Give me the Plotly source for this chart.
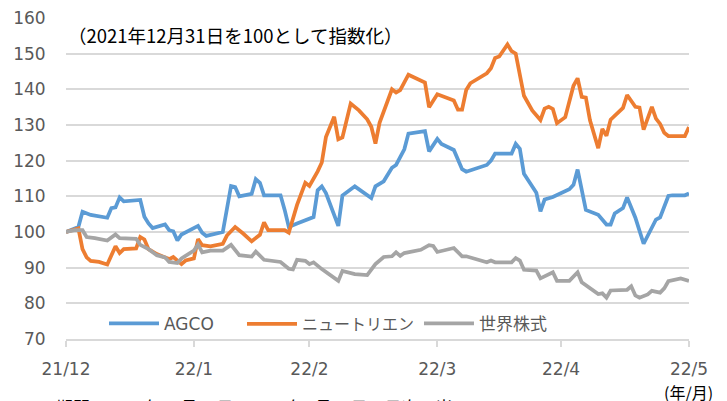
import plotly.graph_objects as go

# 2021/12/31 = 100 として指数化（日次）
agco_dates = [
    "2021-12-31", "2022-01-03", "2022-01-04", "2022-01-06", "2022-01-10", "2022-01-11",
    "2022-01-12", "2022-01-13", "2022-01-14", "2022-01-18", "2022-01-19", "2022-01-20",
    "2022-01-21", "2022-01-24", "2022-01-25", "2022-01-26", "2022-01-27", "2022-01-28",
    "2022-02-01", "2022-02-02", "2022-02-03", "2022-02-07", "2022-02-09", "2022-02-10",
    "2022-02-11", "2022-02-14", "2022-02-15", "2022-02-16", "2022-02-17", "2022-02-21",
    "2022-02-22", "2022-02-23", "2022-02-25", "2022-02-28", "2022-03-01", "2022-03-02",
    "2022-03-03", "2022-03-04", "2022-03-07", "2022-03-08", "2022-03-11", "2022-03-15",
    "2022-03-16", "2022-03-18", "2022-03-20", "2022-03-21", "2022-03-22", "2022-03-23",
    "2022-03-24", "2022-03-28", "2022-03-29", "2022-03-31", "2022-04-01", "2022-04-04",
    "2022-04-06", "2022-04-07", "2022-04-12", "2022-04-13", "2022-04-14", "2022-04-18",
    "2022-04-19", "2022-04-20", "2022-04-21", "2022-04-24", "2022-04-25", "2022-04-26",
    "2022-04-28", "2022-05-02", "2022-05-03", "2022-05-04", "2022-05-06", "2022-05-09",
    "2022-05-11", "2022-05-12", "2022-05-13", "2022-05-15", "2022-05-16", "2022-05-18",
    "2022-05-20", "2022-05-23", "2022-05-24", "2022-05-25", "2022-05-26", "2022-05-27",
    "2022-05-30", "2022-05-31",
]
agco_values = [
    100.0, 101.4, 105.7, 104.8, 104.0, 106.7,
    106.9, 109.7, 108.6, 109.0, 104.3, 102.4,
    101.1, 102.1, 100.5, 100.2, 97.6, 99.3,
    101.7, 99.8, 98.9, 100.0, 112.9, 112.6,
    110.0, 110.7, 114.8, 113.8, 110.3, 110.3,
    106.2, 101.4, 102.4, 103.6, 104.2, 111.7,
    112.8, 110.9, 101.7, 110.2, 112.8, 109.5,
    112.8, 114.2, 118.0, 118.8, 121.2, 123.2,
    127.6, 128.3, 122.6, 126.1, 124.7, 123.0,
    117.6, 116.9, 118.8, 120.0, 122.0, 122.0,
    124.7, 123.3, 116.3, 111.0, 105.8, 109.1,
    109.8, 112.0, 113.2, 117.5, 106.2, 104.8,
    102.1, 102.1, 105.2, 106.7, 109.7, 104.0,
    96.7, 103.5, 104.1, 106.8, 110.1, 110.3,
    110.3, 110.8,
]

nutrien_dates = [
    "2021-12-31", "2022-01-03", "2022-01-04", "2022-01-05", "2022-01-06", "2022-01-08",
    "2022-01-10", "2022-01-12", "2022-01-13", "2022-01-14", "2022-01-17", "2022-01-18",
    "2022-01-19", "2022-01-20", "2022-01-22", "2022-01-23", "2022-01-25", "2022-01-26",
    "2022-01-28", "2022-01-29", "2022-01-31", "2022-02-01", "2022-02-02", "2022-02-04",
    "2022-02-07", "2022-02-08", "2022-02-10", "2022-02-12", "2022-02-14", "2022-02-16",
    "2022-02-17", "2022-02-18", "2022-02-22", "2022-02-23", "2022-02-25", "2022-02-27",
    "2022-02-28", "2022-03-02", "2022-03-03", "2022-03-04", "2022-03-06", "2022-03-07",
    "2022-03-08", "2022-03-10", "2022-03-12", "2022-03-14", "2022-03-15", "2022-03-16",
    "2022-03-17", "2022-03-20", "2022-03-21", "2022-03-22", "2022-03-24", "2022-03-28",
    "2022-03-29", "2022-03-31", "2022-04-04", "2022-04-05", "2022-04-06", "2022-04-07",
    "2022-04-08", "2022-04-12", "2022-04-13", "2022-04-14", "2022-04-15", "2022-04-17",
    "2022-04-18", "2022-04-19", "2022-04-20", "2022-04-21", "2022-04-23", "2022-04-25",
    "2022-04-26", "2022-04-27", "2022-04-28", "2022-04-29", "2022-05-01", "2022-05-03",
    "2022-05-04", "2022-05-05", "2022-05-06", "2022-05-07", "2022-05-09", "2022-05-10",
    "2022-05-11", "2022-05-12", "2022-05-15", "2022-05-16", "2022-05-18", "2022-05-19",
    "2022-05-20", "2022-05-22", "2022-05-23", "2022-05-24", "2022-05-25", "2022-05-26",
    "2022-05-30", "2022-05-31",
]
nutrien_values = [
    100.0, 101.0, 95.2, 92.9, 91.9, 91.6,
    90.9, 96.0, 94.1, 95.2, 95.4, 98.6,
    97.9, 95.2, 93.8, 93.3, 92.4, 93.0,
    91.0, 92.0, 92.6, 98.0, 96.3, 96.0,
    96.7, 99.0, 101.4, 99.5, 97.4, 99.2,
    102.7, 100.5, 100.5, 99.8, 107.6, 113.8,
    112.9, 117.0, 119.5, 126.6, 132.3, 126.0,
    126.5, 136.0, 134.1, 131.6, 129.5, 124.8,
    130.6, 140.0, 139.1, 139.8, 144.1, 141.9,
    135.0, 138.6, 136.9, 134.3, 134.3, 139.8,
    141.7, 144.5, 145.9, 148.8, 149.2, 152.6,
    150.7, 150.0, 143.6, 138.2, 134.1, 131.4,
    134.6, 135.1, 134.5, 130.5, 132.2, 141.0,
    143.1, 137.9, 137.7, 131.3, 123.5, 128.9,
    127.0, 131.5, 134.8, 138.4, 135.1, 134.9,
    128.7, 135.1, 131.8, 130.3, 127.8, 126.9,
    126.9, 129.4,
]

world_dates = [
    "2021-12-31", "2022-01-02", "2022-01-04", "2022-01-05", "2022-01-07", "2022-01-10",
    "2022-01-12", "2022-01-13", "2022-01-17", "2022-01-18", "2022-01-20", "2022-01-22",
    "2022-01-24", "2022-01-25", "2022-01-27", "2022-01-28", "2022-01-31", "2022-02-01",
    "2022-02-02", "2022-02-04", "2022-02-07", "2022-02-09", "2022-02-11", "2022-02-14",
    "2022-02-15", "2022-02-17", "2022-02-21", "2022-02-23", "2022-02-24", "2022-02-25",
    "2022-02-27", "2022-02-28", "2022-03-01", "2022-03-03", "2022-03-07", "2022-03-08",
    "2022-03-11", "2022-03-14", "2022-03-16", "2022-03-18", "2022-03-20", "2022-03-21",
    "2022-03-22", "2022-03-23", "2022-03-27", "2022-03-29", "2022-03-30", "2022-03-31",
    "2022-04-04", "2022-04-06", "2022-04-07", "2022-04-12", "2022-04-13", "2022-04-14",
    "2022-04-18", "2022-04-19", "2022-04-20", "2022-04-21", "2022-04-24", "2022-04-25",
    "2022-04-28", "2022-04-29", "2022-05-02", "2022-05-04", "2022-05-05", "2022-05-09",
    "2022-05-10", "2022-05-11", "2022-05-12", "2022-05-16", "2022-05-17", "2022-05-18",
    "2022-05-19", "2022-05-21", "2022-05-22", "2022-05-24", "2022-05-25", "2022-05-26",
    "2022-05-29", "2022-05-31",
]
world_values = [
    100.0, 100.5, 100.5, 98.6, 98.3, 97.6,
    99.3, 98.3, 98.1, 96.4, 95.2, 93.5,
    92.9, 91.6, 91.3, 92.6, 94.8, 96.5,
    94.3, 94.8, 94.8, 96.4, 93.5, 93.1,
    94.5, 92.2, 91.6, 89.7, 89.5, 92.2,
    91.9, 91.0, 91.5, 89.6, 86.3, 89.1,
    88.2, 87.9, 91.0, 93.0, 93.2, 94.3,
    93.3, 94.1, 95.0, 96.3, 96.1, 94.4,
    95.5, 93.2, 93.2, 91.5, 92.0, 91.5,
    91.5, 92.7, 92.0, 89.4, 89.2, 87.0,
    88.7, 86.3, 86.3, 88.7, 85.9, 82.6,
    82.8, 81.6, 83.6, 83.8, 84.8, 82.2,
    81.6, 82.5, 83.5, 83.0, 84.2, 86.2,
    87.0, 86.3,
]

month_ends = ["2021-12-31", "2022-01-31", "2022-02-28", "2022-03-31", "2022-04-30", "2022-05-31"]
month_labels = ["21/12", "22/1", "22/2", "22/3", "22/4", "22/5"]

# name, dates, values, colour, legend id, legend x (paper), legend font size
series = [
    ("AGCO", agco_dates, agco_values, "#5B9BD5", "legend", 0.061, 17),
    ("ニュートリエン", nutrien_dates, nutrien_values, "#ED7D31", "legend2", 0.2825, 16),
    ("世界株式", world_dates, world_values, "#A5A5A5", "legend3", 0.5666, 17),
]

FONT = "DejaVu Sans, Noto Sans CJK JP, sans-serif"
JP_FONT = "Noto Sans CJK JP, sans-serif"

fig = go.Figure()
for name, d, v, c, leg, lx, fs in series:
    fig.add_trace(go.Scatter(x=d, y=v, name=name, mode="lines", legend=leg,
                             line=dict(color=c, width=3.75)))

# the page body keeps its default 8px margin, so the figure is 8px smaller
fig.update_layout(
    width=719, height=393,
    margin=dict(l=58, r=38, t=10, b=62),
    plot_bgcolor="white", paper_bgcolor="white",
    font=dict(family=FONT, size=16, color="#595959"),
    showlegend=True,
)
for name, d, v, c, leg, lx, fs in series:
    fig.update_layout({leg: dict(orientation="h", x=lx, y=0.047, xanchor="left", yanchor="middle",
                                 bgcolor="rgba(0,0,0,0)", itemwidth=50,
                                 font=dict(family=FONT, size=fs, color="#595959"))})

fig.update_xaxes(
    type="date", range=[month_ends[0], month_ends[-1]],
    tickvals=month_ends, ticktext=month_labels,
    showgrid=False, zeroline=False, automargin=False,
    showline=True, linecolor="#D9D9D9", linewidth=1.5,
    ticks="outside", ticklen=6, tickcolor="#D9D9D9", tickwidth=1.5,
    ticklabelstandoff=8, ticklabeloverflow="allow",
    tickfont=dict(family=FONT, size=17, color="#595959"),
)
fig.update_yaxes(
    range=[70, 160], dtick=10, tick0=70,
    showgrid=True, gridcolor="#D9D9D9", gridwidth=1.5,
    zeroline=False, showline=False, automargin=False,
    ticks="outside", ticklen=0, ticklabelstandoff=16, ticklabeloverflow="allow",
    tickfont=dict(family=FONT, size=17, color="#595959"),
)

fig.add_annotation(text="（2021年12月31日を100として指数化）", xref="paper", yref="paper",
                   x=0.0, y=0.947, xanchor="left", yanchor="middle", showarrow=False,
                   font=dict(family=JP_FONT, size=18.5, color="#000000"))
fig.add_annotation(text="(年/月)", xref="paper", yref="paper",
                   x=1.042, y=-0.164, xanchor="right", yanchor="middle", showarrow=False,
                   font=dict(family=JP_FONT, size=16, color="#000000"))
fig.add_annotation(text="期間：2021年12月31日～2022年5月31日、日次、米ドルベース", xref="paper", yref="paper",
                   x=-0.02, y=-0.21, xanchor="left", yanchor="middle", showarrow=False,
                   font=dict(family=JP_FONT, size=17, color="#000000"))

fig.write_html("out.html")
